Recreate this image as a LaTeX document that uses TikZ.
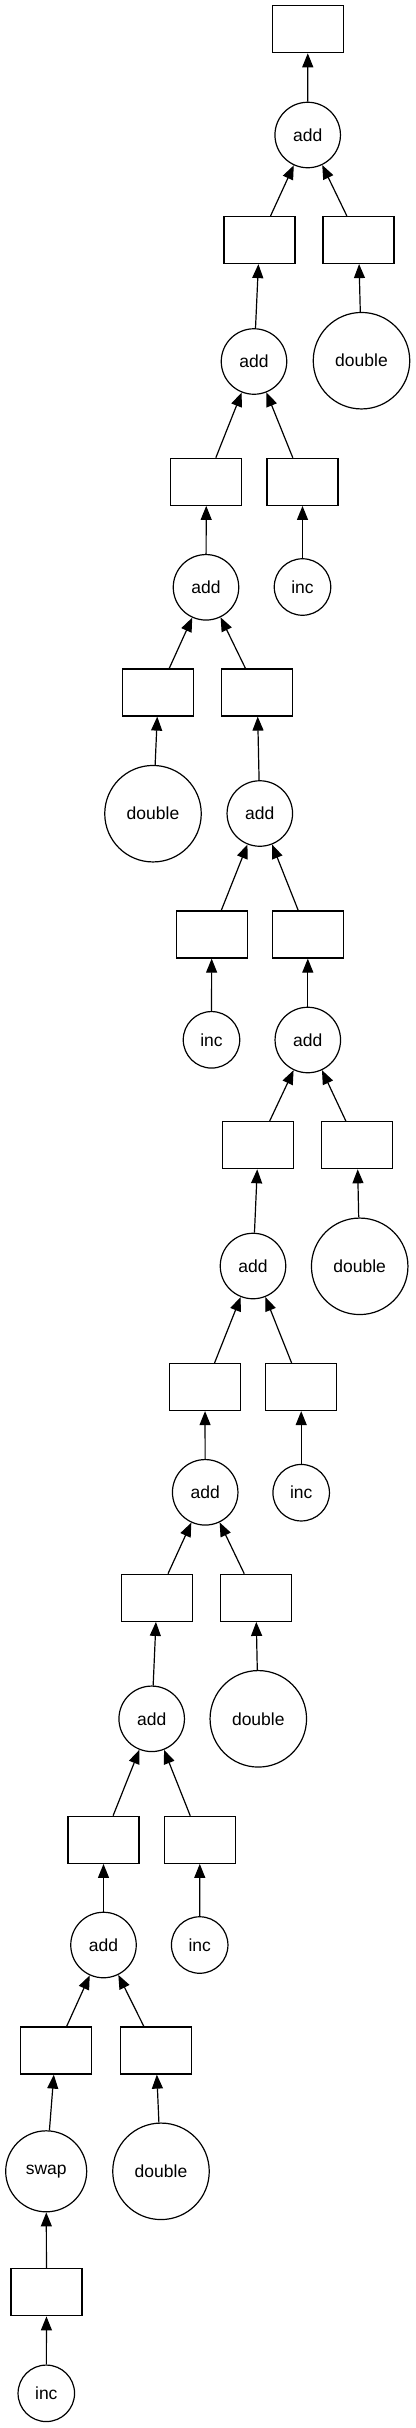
\documentclass[tikz,border=0pt]{standalone}
\usepackage{fontspec}
\setmainfont{Liberation Sans}
\usetikzlibrary{arrows.meta}
\begin{document}
\begin{tikzpicture}[x=1pt,y=-1pt,
  every node/.style={font=\fontsize{17.5}{20}\selectfont},
  boxnode/.style={draw,line width=1.2pt,rectangle,minimum width=71pt,minimum height=47pt,inner sep=0pt},
  fnode/.style={draw,line width=1.2pt,circle,inner sep=0pt},
  addn/.style={fnode,minimum size=65.5pt},
  incn/.style={fnode,minimum size=56.5pt},
  dbln/.style={fnode,minimum size=96.5pt},
  swapn/.style={fnode,minimum size=81pt},
  edge/.style={line width=1.2pt,-{Triangle[length=14pt,width=11pt]}}]
\fill[white] (0,0) rectangle (415,2428);
\useasboundingbox (0,0) rectangle (415,2428);
\node[boxnode] (B0) at (307.8,29.2) {};
\node[addn] (A0) at (307.7,135) {add};
\node[boxnode] (B1L) at (259.5,240) {};
\node[boxnode] (B1R) at (358.5,240) {};
\node[addn] (A1) at (254,361.5) {add};
\node[dbln] (D1) at (361.5,360.7) {double};
\node[boxnode] (B2L) at (206.3,481.8) {};
\node[boxnode] (B2R) at (302.5,481.8) {};
\node[addn] (A2) at (206,587.3) {add};
\node[incn] (I2) at (302.5,587) {inc};
\node[boxnode] (B3L) at (158.3,692.5) {};
\node[boxnode] (B3R) at (257.2,692.5) {};
\node[dbln] (D3) at (153,813.7) {double};
\node[addn] (A3) at (259.8,813.5) {add};
\node[boxnode] (B4L) at (211.7,934.5) {};
\node[boxnode] (B4R) at (307.8,934.5) {};
\node[incn] (I4) at (211.5,1039.8) {inc};
\node[addn] (A4) at (307.8,1040) {add};
\node[boxnode] (B5L) at (258.3,1145.2) {};
\node[boxnode] (B5R) at (357.2,1145.2) {};
\node[addn] (A5) at (253,1266) {add};
\node[dbln] (D5) at (359.7,1266.3) {double};
\node[boxnode] (B6L) at (205,1387) {};
\node[boxnode] (B6R) at (301.2,1387) {};
\node[addn] (A6) at (205.2,1492.3) {add};
\node[incn] (I6) at (301.2,1492.7) {inc};
\node[boxnode] (B7L) at (157,1597.8) {};
\node[boxnode] (B7R) at (255.8,1597.8) {};
\node[addn] (A7) at (151.7,1718.8) {add};
\node[dbln] (D7) at (258.3,1718.8) {double};
\node[boxnode] (B8L) at (103.5,1839.8) {};
\node[boxnode] (B8R) at (199.8,1839.8) {};
\node[addn] (A8) at (103.5,1945) {add};
\node[incn] (I8) at (199.7,1945) {inc};
\node[boxnode] (B9L) at (55.7,2050.5) {};
\node[boxnode] (B9R) at (155.8,2050.5) {};
\node[swapn] (S) at (46.2,2171.3) {swap};
\node[dbln] (D9) at (161,2171.3) {double};
\node[boxnode] (B10) at (46.5,2292.3) {};
\node[incn] (I10) at (46.3,2393.3) {inc};
\draw[edge] (A0) -- (B0);
\draw[edge] (B1L) -- (A0);
\draw[edge] (B1R) -- (A0);
\draw[edge] (A1) -- (B1L);
\draw[edge] (D1) -- (B1R);
\draw[edge] (B2L) -- (A1);
\draw[edge] (B2R) -- (A1);
\draw[edge] (A2) -- (B2L);
\draw[edge] (I2) -- (B2R);
\draw[edge] (B3L) -- (A2);
\draw[edge] (B3R) -- (A2);
\draw[edge] (D3) -- (B3L);
\draw[edge] (A3) -- (B3R);
\draw[edge] (B4L) -- (A3);
\draw[edge] (B4R) -- (A3);
\draw[edge] (I4) -- (B4L);
\draw[edge] (A4) -- (B4R);
\draw[edge] (B5L) -- (A4);
\draw[edge] (B5R) -- (A4);
\draw[edge] (A5) -- (B5L);
\draw[edge] (D5) -- (B5R);
\draw[edge] (B6L) -- (A5);
\draw[edge] (B6R) -- (A5);
\draw[edge] (A6) -- (B6L);
\draw[edge] (I6) -- (B6R);
\draw[edge] (B7L) -- (A6);
\draw[edge] (B7R) -- (A6);
\draw[edge] (A7) -- (B7L);
\draw[edge] (D7) -- (B7R);
\draw[edge] (B8L) -- (A7);
\draw[edge] (B8R) -- (A7);
\draw[edge] (A8) -- (B8L);
\draw[edge] (I8) -- (B8R);
\draw[edge] (B9L) -- (A8);
\draw[edge] (B9R) -- (A8);
\draw[edge] (S) -- (B9L);
\draw[edge] (D9) -- (B9R);
\draw[edge] (B10) -- (S);
\draw[edge] (I10) -- (B10);
\end{tikzpicture}
\end{document}
